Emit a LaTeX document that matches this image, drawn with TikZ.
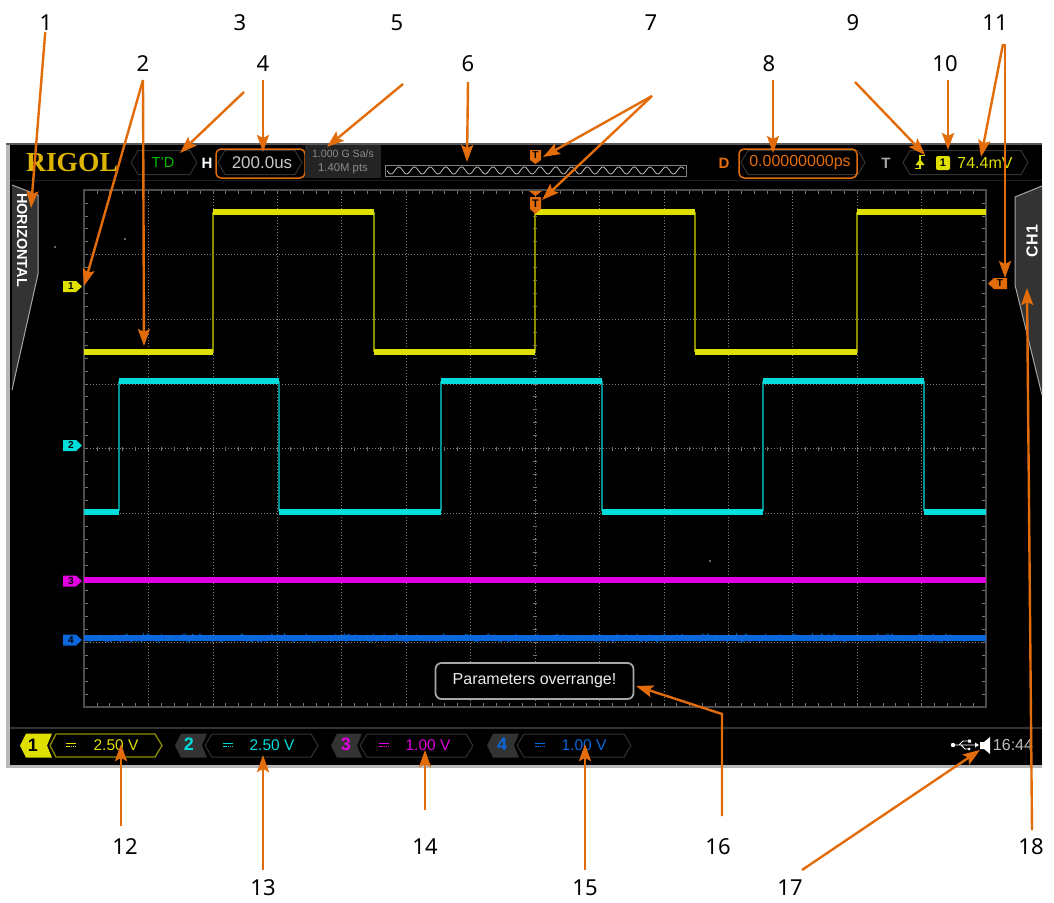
\documentclass[tikz,border=0pt]{standalone}
\usepackage{fontspec}
\setmainfont{Liberation Sans}
\newfontfamily\labelfont{Noto Sans}
\newfontfamily\logofont{Liberation Serif}
\usetikzlibrary{arrows.meta}
\definecolor{callout}{HTML}{E36C0A}
\definecolor{wyellow}{HTML}{DFDF00}
\definecolor{dyellow}{HTML}{8C8C00}
\definecolor{wcyan}{HTML}{00DCDC}
\definecolor{dcyan}{HTML}{008F8F}
\definecolor{wmag}{HTML}{E000E0}
\definecolor{wblue}{HTML}{0A68DC}
\definecolor{chipgray}{HTML}{333333}
\definecolor{goldlogo}{HTML}{DDB400}
\definecolor{txtgray}{HTML}{C8C8C8}
\tikzset{
  x=1pt,y=-1pt,
  num/.style={font=\labelfont\fontsize{22}{22}\selectfont,text=black,inner sep=1pt},
  callarrow/.style={draw=callout,line width=2.4pt,-{Stealth[length=17pt,width=12pt,inset=3pt]}},
  pillbox/.style={draw=chipgray,line width=1pt},
  focusbox/.style={draw=callout,line width=1.5pt,rounded corners=5pt},
  scr/.style={inner sep=0pt,font=\fontsize{15.5}{15.5}\selectfont},
  chantext/.style={inner sep=0pt,font=\fontsize{15.5}{15.5}\selectfont},
  chipnum/.style={inner sep=0pt,font=\bfseries\fontsize{18}{18}\selectfont},
  marktext/.style={inner sep=0pt,font=\bfseries\fontsize{10}{10}\selectfont,text=black},
  gridline/.style={draw=white!50!black,line width=.6pt,dash pattern=on 1pt off 2pt},
  frameline/.style={draw=white!30!black,line width=1.2pt},
  tickline/.style={draw=white!45!black,line width=.7pt},
}
\newcommand{\pillshape}[4]{% x1,x2,yc,halfheight
  \draw[pillbox] (#1,#3) -- (#1+7,#3-#4) -- (#2-7,#3-#4) -- (#2,#3) -- (#2-7,#3+#4) -- (#1+7,#3+#4) -- cycle;}
\newcommand{\chipshape}[4]{% x1,x2,yc,colour
  \fill[#4] (#1,#3) -- (#1+6,#3-12) -- (#2+2,#3-12) -- (#2-3,#3) -- (#2+2,#3+12) -- (#1+6,#3+12) -- cycle;}
\newcommand{\dcsym}[3]{% x,y,colour
  \draw[#3,line width=.8pt] (#1-5,#2-1.5) -- (#1+5,#2-1.5);
  \draw[#3,line width=.8pt,dash pattern=on 1.5pt off .8pt] (#1-5,#2+1.5) -- (#1+5,#2+1.5);}
\newcommand{\chanmark}[3]{% y,colour,text
  \fill[#2] (63,#1-5.5) -- (76,#1-5.5) -- (82,#1) -- (76,#1+5.5) -- (63,#1+5.5) -- cycle;
  \node[marktext] (mark#3) at (71,#1) {#3};}
\begin{document}
\begin{tikzpicture}
\useasboundingbox (0,0) rectangle (1054,902);
\fill[white] (0,0) rectangle (1054,902);
% screen
\fill[white!72!black] (6,143) rectangle (1042,768);
\fill[black] (10,144) rectangle (1042,765);
\fill[white!35!black] (6,142.5) rectangle (1042,144.5);
\draw[white!12!black,line width=1pt] (10,180) -- (1042,180);
\draw[white!20!black,line width=1.4pt] (10,728) -- (1042,728);
% grid
\foreach \i in {1,...,13} \draw[gridline] ({84+64.43*\i},190) -- ({84+64.43*\i},707);
\foreach \i in {1,...,7} \draw[gridline] (84,{190+64.63*\i}) -- (986,{190+64.63*\i});
\foreach \i in {1,...,69} {
  \draw[tickline] ({84+12.886*\i},190) -- ({84+12.886*\i},194);
  \draw[tickline] ({84+12.886*\i},707) -- ({84+12.886*\i},703);
  \draw[tickline] ({84+12.886*\i},446.5) -- ({84+12.886*\i},450.5);
}
\foreach \i in {1,...,39} {
  \draw[tickline] (84,{190+12.926*\i}) -- (88,{190+12.926*\i});
  \draw[tickline] (986,{190+12.926*\i}) -- (982,{190+12.926*\i});
  \draw[tickline] (533,{190+12.926*\i}) -- (537,{190+12.926*\i});
}
\draw[frameline] (84,190) rectangle (986,707);
% specks
\fill[white!80!black] (55,247) circle (.8);
\fill[white!80!black] (125,239) circle (.8);
\fill[white!80!black] (710,561) circle (.8);
% waveforms
\draw[dyellow,line width=1.2pt] (213,352) -- (213,212) (374,212) -- (374,352) (535,352) -- (535,212) (695,212) -- (695,352) (857,352) -- (857,212);
\foreach \a/\b in {84/213,374/535,695/857} \draw[wyellow,line width=6pt] (\a,352) -- (\b,352);
\foreach \a/\b in {213/374,535/695,857/986} \draw[wyellow,line width=6pt] (\a,212) -- (\b,212);
\draw[dcyan,line width=1.2pt] (119,511) -- (119,381) (279,381) -- (279,511) (441,511) -- (441,381) (602,381) -- (602,511) (763,511) -- (763,381) (924,381) -- (924,511);
\foreach \a/\b in {84/119,279/441,602/763,924/986} \draw[wcyan,line width=6pt] (\a,511.5) -- (\b,511.5);
\foreach \a/\b in {119/279,441/602,763/924} \draw[wcyan,line width=6pt] (\a,381) -- (\b,381);
\draw[wmag,line width=6.5pt] (84,580) -- (986,580);
\pgfmathsetseed{7}
\draw[wblue,line width=6pt] (84,638) -- (986,638);
\draw[wblue,line width=.5pt] plot[domain=84:986,samples=500] (\x,{638+4.5*rand});
% channel markers
\chanmark{286.5}{wyellow}{1}
\chanmark{445.5}{wcyan}{2}
\chanmark{581}{wmag}{3}
\chanmark{640}{wblue}{4}
% tabs
\fill[chipgray] (12,185) -- (38,195) -- (38,274) -- (12,390) -- cycle;
\draw[white!65!black,line width=1pt] (12,185) -- (38,195) -- (38,274) -- (12,390);
\node[inner sep=0pt,rotate=-90,text=white,font=\bfseries\fontsize{14.5}{14.5}\selectfont] (tabh) at (22,240) {HORIZONTAL};
\fill[chipgray] (1042,186) -- (1015,197) -- (1015,285) -- (1042,395) -- cycle;
\draw[white!65!black,line width=1pt] (1042,186) -- (1015,197) -- (1015,285) -- (1042,395);
\node[inner sep=0pt,rotate=90,text=white,font=\bfseries\fontsize{16}{16}\selectfont] (tabc) at (1032,241) {CH1};
% top bar
\node[inner sep=0pt,text=goldlogo,font=\logofont\bfseries\fontsize{27.5}{27.5}\selectfont] (logo) at (72,163) {RIGOL};
\pillshape{131}{197}{162.5}{12}
\node[scr,text=green!75!black,font=\fontsize{14.5}{14.5}\selectfont] (mode) at (163,163) {T'D};
\node[inner sep=0pt,text=white,font=\bfseries\fontsize{15}{15}\selectfont] (hlab) at (207,163) {H};
\pillshape{218}{302}{162.5}{12}
\draw[focusbox] (216,149) rectangle (305,178);
\node[scr,text=txtgray,font=\fontsize{17}{17}\selectfont] (tb) at (262,163) {200.0us};
\fill[white!14!black] (305,144.5) rectangle (381,178);
\node[inner sep=0pt,text=white!55!black,font=\fontsize{10.6}{10.6}\selectfont] (srate) at (343,154) {1.000 G Sa/s};
\node[inner sep=0pt,text=white!55!black,font=\fontsize{11.3}{11.3}\selectfont] (mdepth) at (343,169) {1.40M pts};
\draw[white!50!black,line width=.9pt] (385,165) rectangle (686,176);
\draw[white!75!black,line width=.8pt] plot[domain=387:684,samples=400,smooth] (\x,{170.5+3.5*sin((\x-387)/15.7*360)});
\fill[callout] (530,150) rectangle (541,160) (530,160) -- (541,160) -- (535.5,164) -- cycle;
\node[marktext] (tmarktop) at (535.5,155.5) {T};
\fill[callout] (529,191) -- (542,191) -- (535.5,196) -- cycle;
\fill[callout] (530,197) -- (541,197) -- (541,209) -- (535.5,214) -- (530,209) -- cycle;
\node[marktext,font=\bfseries\fontsize{11}{11}\selectfont] (tmarkmid) at (535.5,204) {T};
\node[inner sep=0pt,text=callout,font=\bfseries\fontsize{15}{15}\selectfont] (dlab) at (724,163) {D};
\pillshape{741}{865}{162.5}{12}
\draw[focusbox] (739,149) rectangle (857,178);
\node[scr,text=callout,font=\fontsize{16}{16}\selectfont] (delay) at (800,163) {0.00000000ps};
\node[inner sep=0pt,text=white!65!black,font=\bfseries\fontsize{15}{15}\selectfont] (tlab) at (886,163) {T};
\pillshape{903}{1028}{162.5}{12}
\draw[wyellow,line width=1.2pt] (915,168.5) -- (920,168.5) -- (920,155.5) -- (925,155.5);
\fill[wyellow] (915.5,165) -- (924.5,165) -- (920,159) -- cycle;
\fill[wyellow,rounded corners=2pt] (936,156) rectangle (950,170);
\node[marktext,font=\bfseries\fontsize{11}{11}\selectfont] (trigsrc) at (943,163) {1};
\node[scr,text=wyellow,font=\fontsize{16}{16}\selectfont] (triglevel) at (985,163) {74.4mV};
\fill[callout] (1007,278) -- (994,278) -- (988,283.5) -- (994,289) -- (1007,289) -- cycle;
\node[marktext] (tmarkright) at (1000,283.5) {T};
% message
\node[draw=white!65!black,line width=1.8pt,rounded corners=6pt,fill=black,text=white!92!black,minimum width=198pt,minimum height=36pt,inner sep=0pt,font=\fontsize{16}{16}\selectfont] (msg) at (534.5,681) {Parameters overrange!};
% bottom bar
\chipshape{20}{50}{745.5}{wyellow}
\draw[draw=dyellow,line width=1.3pt] (50,745.5) -- (56,734) -- (155,734) -- (162,745.5) -- (155,757) -- (56,757) -- cycle;
\node[chipnum,text=black] (c1n) at (33,745) {1};
\dcsym{71}{745}{wyellow}
\node[chantext,text=wyellow] (c1v) at (116,745) {2.50 V};
\chipshape{175}{205}{745.5}{chipgray}
\pillshape{205}{318}{745.5}{11.5}
\node[chipnum,text=wcyan] (c2n) at (189,744) {2};
\dcsym{228}{745}{wcyan}
\node[chantext,text=wcyan] (c2v) at (272,745) {2.50 V};
\chipshape{331}{360}{745.5}{chipgray}
\pillshape{360}{473}{745.5}{11.5}
\node[chipnum,text=wmag] (c3n) at (346,744) {3};
\dcsym{384}{745}{wmag}
\node[chantext,text=wmag] (c3v) at (428,745) {1.00 V};
\chipshape{487}{517}{745.5}{chipgray}
\pillshape{517}{631}{745.5}{11.5}
\node[chipnum,text=wblue] (c4n) at (502,744) {4};
\dcsym{540}{745}{wblue}
\node[chantext,text=wblue] (c4v) at (584,745) {1.00 V};
% usb + speaker + clock
\draw[white,line width=.9pt] (953,745) -- (975,745) (959,745) -- (963,741) -- (969,741) (961,745) -- (965,749) -- (970,749);
\fill[white] (953,745) circle (2.2) (975,742.5) -- (979,745) -- (975,747.5) -- cycle (968,739.5) rectangle (971,742.5) (969,749) circle (1.5);
\fill[white] (980,742) -- (984,742) -- (990,737) -- (990,754) -- (984,749) -- (980,749) -- cycle;
\node[scr,text=white!75!black,font=\fontsize{16}{16}\selectfont] (clock) at (1013,745) {16:44};
% labels
\node[num] (L1) at (46,23) {1};
\node[num] (L2) at (143,64) {2};
\node[num] (L3) at (240,23) {3};
\node[num] (L4) at (263,64) {4};
\node[num] (L5) at (397,23) {5};
\node[num] (L6) at (468,64) {6};
\node[num] (L7) at (651,23) {7};
\node[num] (L8) at (769,64) {8};
\node[num] (L9) at (853,23) {9};
\node[num] (L10) at (945,64) {10};
\node[num] (L11) at (995,23) {11};
\node[num] (L12) at (125,847) {12};
\node[num] (L13) at (263,888) {13};
\node[num] (L14) at (425,847) {14};
\node[num] (L15) at (585,888) {15};
\node[num] (L16) at (718,847) {16};
\node[num] (L17) at (790,888) {17};
\node[num] (L18) at (1031,847) {18};
% connector ends
\coordinate (s2) at (143,80);
\coordinate (t1) at (31,208);
\coordinate (t2a) at (84,286);
\coordinate (t2b) at (144,346);
\coordinate (s3) at (244,92);
\coordinate (t3) at (180,153);
\coordinate (s4) at (263,80);
\coordinate (t4) at (263,152);
\coordinate (s5) at (403,84);
\coordinate (t5) at (327,147);
\coordinate (s6) at (468,82);
\coordinate (t6) at (467,162);
\coordinate (b7) at (652,96);
\coordinate (t7a) at (543,157);
\coordinate (t7b) at (542,200);
\coordinate (s8) at (773,80);
\coordinate (t8) at (773,153);
\coordinate (s9) at (855,82);
\coordinate (t9) at (925,155);
\coordinate (s10) at (948,80);
\coordinate (t10) at (948,150);
\coordinate (s11a) at (1003,44);
\coordinate (s11b) at (1005,44);
\coordinate (t11a) at (981,157);
\coordinate (t11b) at (1005,278);
\coordinate (s12) at (121,826);
\coordinate (t12) at (121,744);
\coordinate (s13) at (263,870);
\coordinate (t13) at (263,755);
\coordinate (s14) at (425,810);
\coordinate (t14) at (425,750);
\coordinate (s15) at (585,870);
\coordinate (t15) at (585,744);
\coordinate (s16) at (722,816);
\coordinate (k16) at (722,714);
\coordinate (t16) at (636,686);
\coordinate (s17) at (802,870);
\coordinate (t17) at (980,750);
\coordinate (s18) at (1032,830);
\coordinate (t18) at (1027,288);
% connectors
\draw[callarrow] (L1) -- (t1);
\draw[callarrow] (s2) -- (t2a);
\draw[callarrow] (s2) -- (t2b);
\draw[callarrow] (s3) -- (t3);
\draw[callarrow] (s4) -- (t4);
\draw[callarrow] (s5) -- (t5);
\draw[callarrow] (s6) -- (t6);
\draw[callarrow] (b7) -- (t7a);
\draw[callarrow] (b7) -- (t7b);
\draw[callarrow] (s8) -- (t8);
\draw[callarrow] (s9) -- (t9);
\draw[callarrow] (s10) -- (t10);
\draw[callarrow] (s11a) -- (t11a);
\draw[callarrow] (s11b) -- (t11b);
\draw[callarrow] (s12) -- (t12);
\draw[callarrow] (s13) -- (t13);
\draw[callarrow] (s14) -- (t14);
\draw[callarrow] (s15) -- (t15);
\draw[callarrow] (s16) -- (k16) -- (t16);
\draw[callarrow] (s17) -- (t17);
\draw[callarrow] (s18) -- (t18);
\end{tikzpicture}
\end{document}
